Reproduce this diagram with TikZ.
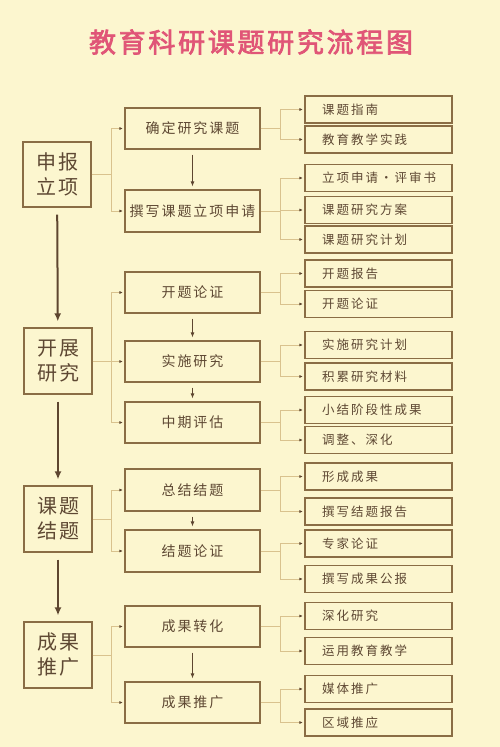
\documentclass[tikz,border=0pt]{standalone}
\usepackage{fontspec}
\usetikzlibrary{arrows.meta}
\newfontfamily\cjk{Noto Sans CJK SC}
\newfontfamily\cjktitle[FakeBold=2.5,LetterSpace=10]{Noto Sans CJK SC}
\newfontfamily\cjkmid[LetterSpace=14]{Noto Sans CJK SC}
\newfontfamily\cjkright[LetterSpace=16]{Noto Sans CJK SC}
\newfontfamily\cjkstage[LetterSpace=10]{Noto Sans CJK SC}
\definecolor{bgc}{HTML}{FCF6CF}
\definecolor{titlec}{HTML}{E05577}
\definecolor{boxc}{HTML}{8A6D45}
\definecolor{txtc}{HTML}{5E4833}
\definecolor{busc}{HTML}{D9C28E}
\definecolor{arrc}{HTML}{5E4630}
\tikzset{
  stagebox/.style={draw=boxc,line width=1.2pt,minimum width=68pt,minimum height=66pt,inner sep=0pt,align=center,text=txtc,font=\cjkstage\fontsize{20}{25}\selectfont},
  midbox/.style={draw=boxc,line width=1.2pt,minimum width=135pt,minimum height=41pt,inner sep=0pt,text=txtc,font=\cjkmid\fontsize{14}{16}\selectfont},
  rightbox/.style={draw=boxc,line width=1.2pt,minimum width=147pt,minimum height=27pt,inner xsep=17pt,inner ysep=0pt,text=txtc,font=\cjkright\fontsize{12.5}{14}\selectfont},
  bus/.style={draw=busc,line width=0.9pt},
  busarrow/.style={bus,-{Latex[color=arrc,length=3.5pt,width=3pt]},shorten >=1.5pt},
  midarrow/.style={draw=arrc,line width=0.9pt,-{Latex[length=5pt,width=4pt]},shorten <=5pt,shorten >=3pt},
  stagearrow/.style={draw=arrc,line width=2pt,-{Latex[length=8pt,width=7pt]},shorten <=7pt,shorten >=6pt},
}
\newcommand{\rtext}[1]{\makebox[113pt][l]{#1}}
\begin{document}
\begin{tikzpicture}[x=1pt,y=-1pt]
\fill[bgc] (0,0) rectangle (500,747);
\useasboundingbox (0,0) rectangle (500,747);
\node[text=titlec,font=\cjktitle\fontsize{27}{30}\selectfont] (title) at (251,42) {教育科研课题研究流程图};
% stage boxes
\node[stagebox,minimum height=65pt] (s1) at (57,174.5) {申报\\立项};
\node[stagebox] (s2) at (58,361) {开展\\研究};
\node[stagebox] (s3) at (58,519) {课题\\结题};
\node[stagebox] (s4) at (58,655) {成果\\推广};
% middle boxes
\node[midbox] (m1) at (192.5,128.5) {确定研究课题};
\node[midbox,minimum height=42pt] (m2) at (192.5,211) {撰写课题立项申请};
\node[midbox] (m3) at (192.5,292.5) {开题论证};
\node[midbox] (m4) at (192.5,361.5) {实施研究};
\node[midbox] (m5) at (192.5,422.5) {中期评估};
\node[midbox,minimum height=42pt] (m6) at (192.5,490) {总结结题};
\node[midbox,minimum height=42pt] (m7) at (192.5,551) {结题论证};
\node[midbox] (m8) at (192.5,626.5) {成果转化};
\node[midbox] (m9) at (192.5,702.5) {成果推广};
% right boxes
\node[rightbox] (r1) at (378.5,109.5) {\rtext{课题指南}};
\node[rightbox] (r2) at (378.5,139.5) {\rtext{教育教学实践}};
\node[rightbox] (r3) at (378.5,178) {\rtext{立项申请·评审书}};
\node[rightbox] (r4) at (378.5,210) {\rtext{课题研究方案}};
\node[rightbox] (r5) at (378.5,239.5) {\rtext{课题研究计划}};
\node[rightbox] (r6) at (378.5,273.5) {\rtext{开题报告}};
\node[rightbox] (r7) at (378.5,304) {\rtext{开题论证}};
\node[rightbox] (r8) at (378.5,345) {\rtext{实施研究计划}};
\node[rightbox] (r9) at (378.5,376.5) {\rtext{积累研究材料}};
\node[rightbox] (r10) at (378.5,410) {\rtext{小结阶段性成果}};
\node[rightbox] (r11) at (378.5,440) {\rtext{调整、深化}};
\node[rightbox] (r12) at (378.5,476.5) {\rtext{形成成果}};
\node[rightbox] (r13) at (378.5,511.5) {\rtext{撰写结题报告}};
\node[rightbox] (r14) at (378.5,543.5) {\rtext{专家论证}};
\node[rightbox] (r15) at (378.5,579) {\rtext{撰写成果公报}};
\node[rightbox] (r16) at (378.5,616) {\rtext{深化研究}};
\node[rightbox] (r17) at (378.5,651) {\rtext{运用教育教学}};
\node[rightbox] (r18) at (378.5,689) {\rtext{媒体推广}};
\node[rightbox] (r19) at (378.5,722.5) {\rtext{区域推应}};
% stage arrows
\draw[stagearrow] (s1) -- (s2);
\draw[stagearrow] (s2) -- (s3);
\draw[stagearrow] (s3) -- (s4);
% middle arrows
\draw[midarrow] (m1) -- (m2);
\draw[midarrow] (m3) -- (m4);
\draw[midarrow] (m4) -- (m5);
\draw[midarrow] (m6) -- (m7);
\draw[midarrow] (m8) -- (m9);
% stage -> middle buses
\foreach \s/\list in {s1/{m1,m2}, s2/{m3,m4,m5}, s3/{m6,m7}, s4/{m8,m9}}{
  \coordinate (j\s) at (111,0 |- \s.east);
  \draw[bus] (\s.east) -- (j\s);
  \foreach \m in \list { \draw[busarrow] (j\s) |- (\m.west); }
}
% middle -> right buses
\foreach \m/\list in {m1/{r1,r2}, m2/{r3,r4,r5}, m3/{r6,r7}, m4/{r8,r9}, m5/{r10,r11}, m6/{r12,r13}, m7/{r14,r15}, m8/{r16,r17}, m9/{r18,r19}}{
  \coordinate (k\m) at (280,0 |- \m.east);
  \draw[bus] (\m.east) -- (k\m);
  \foreach \r in \list { \draw[busarrow] (k\m) |- (\r.west); }
}
\end{tikzpicture}
\end{document}
